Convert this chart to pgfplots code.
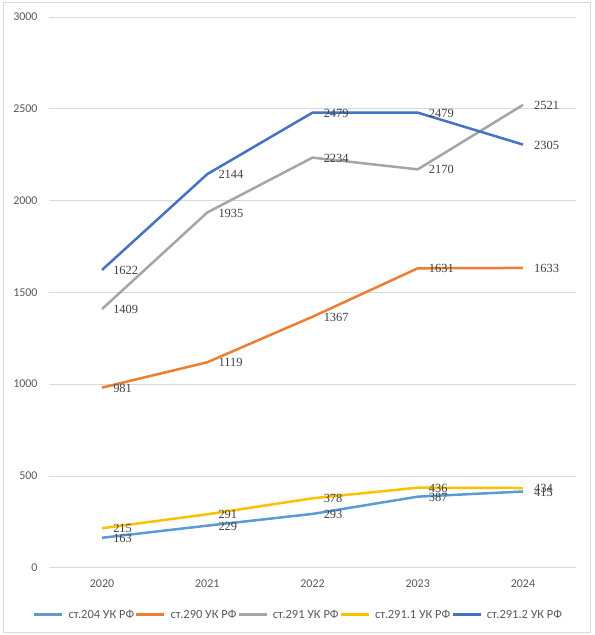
\documentclass[border=0pt]{standalone}
\usepackage{fontspec}
\setmainfont{Carlito}
\newfontfamily\labfont{Liberation Serif}
\usepackage{pgfplots}
\pgfplotsset{compat=1.18}
\definecolor{cA}{HTML}{5B9BD5}
\definecolor{cB}{HTML}{ED7D31}
\definecolor{cC}{HTML}{A5A5A5}
\definecolor{cD}{HTML}{FFC000}
\definecolor{cE}{HTML}{4472C4}
\definecolor{gridgray}{HTML}{D9D9D9}
\definecolor{tickgray}{HTML}{595959}
\definecolor{labgray}{HTML}{404040}
\begin{document}
\begin{tikzpicture}
\useasboundingbox (-49.4bp,-67.3bp) rectangle (545.6bp,567.7bp);
\draw[color=gridgray, line width=0.75bp] (-46.4bp,-64.3bp) rectangle (540.6bp,565.7bp);
\begin{axis}[
  at={(0,0)}, anchor=south west,
  scale only axis, width=526.2bp, height=550.7bp,
  xmin=-0.5, xmax=4.5, ymin=0, ymax=3000,
  xtick={0,1,2,3,4}, xticklabels={2020,2021,2022,2023,2024},
  ytick={0,500,1000,1500,2000,2500,3000},
  ymajorgrids, grid style={color=gridgray, line width=0.75bp},
  axis line style={draw=none},
  major tick length=0pt,
  /pgf/number format/assume math mode=true,
  /pgf/number format/1000 sep={},
  tick label style={font=\fontsize{12}{14}\selectfont, color=tickgray, inner sep=0pt},
  yticklabel style={xshift=-11.7bp},
  xticklabel style={yshift=-11.5bp},
  clip=false,
  nodes near coords,
  every node near coord/.append style={anchor=west, font=\labfont\fontsize{12.5}{14}\selectfont, color=labgray, inner sep=0pt, xshift=10bp, yshift=-0.5bp},
  legend style={at={(axis description cs:0.4725,0)}, yshift=-47bp, anchor=center, draw=none, fill=none,
    legend columns=5, font=\fontsize{12.5}{14}\selectfont, text=tickgray,
    /tikz/every odd column/.append style={column sep=4bp},
    nodes={inner sep=1bp}},
  legend image code/.code={\draw[#1, line width=2.5bp] (0bp,0bp) -- (28bp,0bp);},
  every axis plot/.append style={line width=2.5bp, line join=round},
]
\addplot[color=cA] coordinates {(0,163) (1,229) (2,293) (3,387) (4,415)};
\addlegendentry{ст.204 УК РФ}
\addplot[color=cB] coordinates {(0,981) (1,1119) (2,1367) (3,1631) (4,1633)};
\addlegendentry{ст.290 УК РФ}
\addplot[color=cC] coordinates {(0,1409) (1,1935) (2,2234) (3,2170) (4,2521)};
\addlegendentry{ст.291 УК РФ}
\addplot[color=cD] coordinates {(0,215) (1,291) (2,378) (3,436) (4,434)};
\addlegendentry{ст.291.1 УК РФ}
\addplot[color=cE] coordinates {(0,1622) (1,2144) (2,2479) (3,2479) (4,2305)};
\addlegendentry{ст.291.2 УК РФ}
\end{axis}
\end{tikzpicture}
\end{document}
